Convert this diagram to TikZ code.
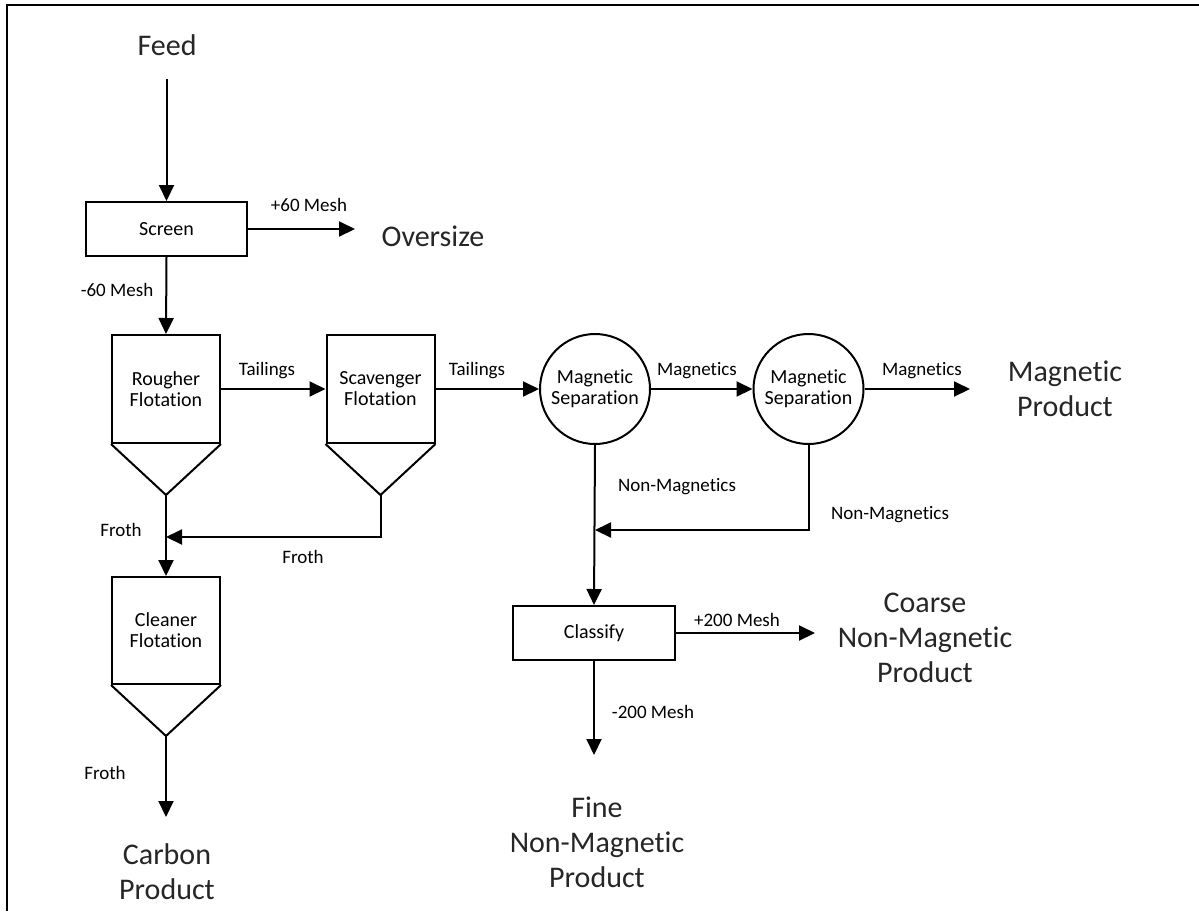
\documentclass[tikz,border=0pt]{standalone}
\usepackage{fontspec}
\setmainfont{Carlito}[Ligatures=NoCommon]
\usetikzlibrary{arrows.meta}
\begin{document}
\begin{tikzpicture}[x=0.5pt,y=-0.5pt,
  line width=1pt,
  flow/.style={-{Triangle[length=8pt,width=7.5pt]}},
  unit/.style={draw,rectangle,inner sep=0pt,align=center,font=\fontsize{10}{10.5}\selectfont},
  sep/.style={draw,circle,inner sep=0pt,minimum size=55pt,align=center,font=\fontsize{10}{10.5}\selectfont},
  lbl/.style={inner sep=0pt,font=\fontsize{9.5}{11}\selectfont},
  big/.style={inner sep=0pt,align=center,text=black!85,font=\fontsize{15}{17.5}\selectfont}]
\useasboundingbox (0,0) rectangle (1199,911);
% frame (cropped)
\draw[line width=1.2pt] (7,911) -- (7,5) -- (1199,5);

% nodes
\node[big] (feed) at (167,45) {Feed};
\node[unit,minimum width=80.5pt,minimum height=27pt] (screen) at (166.5,229) {Screen};
\node[big] (oversize) at (433,236) {Oversize};
\node[unit,minimum width=54pt,minimum height=54pt] (rougher) at (166,389) {Rougher\\Flotation};
\node[unit,minimum width=54pt,minimum height=54pt] (scav) at (380.5,389) {Scavenger\\Flotation};
\node[sep] (mag1) at (595,389) {Magnetic\\Separation};
\node[sep] (mag2) at (808.5,389) {Magnetic\\Separation};
\node[big] (magprod) at (1065,389) {Magnetic\\Product};
\node[unit,minimum width=81pt,minimum height=27pt] (classify) at (594,633) {Classify};
\node[big] (coarse) at (925,638) {Coarse\\Non-Magnetic\\Product};
\node[big] (fine) at (597,842) {Fine\\Non-Magnetic\\Product};
\node[unit,minimum width=54pt,minimum height=53.5pt] (cleaner) at (166,630.5) {Cleaner\\Flotation};
\node[big] (carbon) at (167,872) {Carbon\\Product};

% cones
\coordinate (rapex) at (166,495);
\coordinate (sapex) at (380.5,495);
\coordinate (capex) at (166,736);
\draw (rougher.south west) -- (rapex) -- (rougher.south east);
\draw (scav.south west) -- (sapex) -- (scav.south east);
\draw (cleaner.south west) -- (capex) -- (cleaner.south east);

% free ends
\coordinate (feedtop) at (166.5,79);
\coordinate (overend) at (355,229);
\coordinate (magend) at (970,389);
\coordinate (frothj) at (166,537);
\coordinate (nonmagj) at (595,530);
\coordinate (coarseend) at (815,633);
\coordinate (fineend) at (594,755);
\coordinate (carbonend) at (166,817);

% connectors
\draw[flow] (feedtop) -- (screen.north);
\draw[flow] (screen.east) -- (overend);
\draw[flow] (screen.south) -- (rougher.north);
\draw[flow] (rougher.east) -- (scav.west);
\draw[flow] (scav.east) -- (mag1.west);
\draw[flow] (mag1.east) -- (mag2.west);
\draw[flow] (mag2.east) -- (magend);
\draw[flow] (rapex) -- (cleaner.north);
\draw[flow] (sapex) |- (frothj);
\draw[flow] (mag1.south) -- (classify.north);
\draw[flow] (mag2.south) |- (nonmagj);
\draw[flow] (classify.east) -- (coarseend);
\draw[flow] (classify.south) -- (fineend);
\draw[flow] (capex) -- (carbonend);

% labels
\node[lbl] (l60p) at (309,205) {+60 Mesh};
\node[lbl] (l60m) at (117,290) {-60 Mesh};
\node[lbl] (ltail1) at (267,371) {Tailings};
\node[lbl] (ltail2) at (477,371) {Tailings};
\node[lbl] (lmag1) at (697,371) {Magnetics};
\node[lbl] (lmag2) at (922,371) {Magnetics};
\node[lbl] (lfroth1) at (121,530) {Froth};
\node[lbl] (lfroth2) at (303,557) {Froth};
\node[lbl] (lnon1) at (677,487) {Non-Magnetics};
\node[lbl] (lnon2) at (890,515) {Non-Magnetics};
\node[lbl] (l200p) at (737,620) {+200 Mesh};
\node[lbl] (l200m) at (653,712) {-200 Mesh};
\node[lbl] (lfroth3) at (105,773) {Froth};
\end{tikzpicture}
\end{document}
